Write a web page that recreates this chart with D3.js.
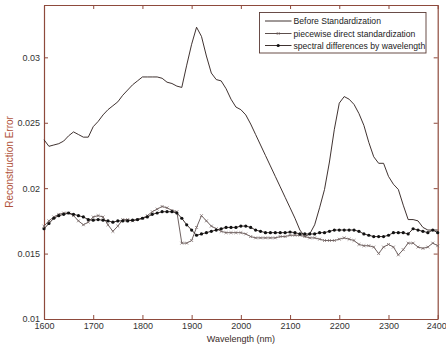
<!DOCTYPE html>
<html>
<head>
<meta charset="utf-8">
<script src="https://cdn.jsdelivr.net/npm/d3@7"></script>
<style>
  html, body { margin: 0; padding: 0; background: #fff; }
  svg { display: block; font-family: "Liberation Sans", Arial, sans-serif; }
</style>
</head>
<body>
<svg id="chart" width="446" height="351"></svg>
<script>
// Wavelength grid (nm), sampled every 10 nm
const wavelengths = d3.range(1600, 2401, 10);

// Reconstruction error before any standardization
const beforeStd = [
  0.0237, 0.0232, 0.0233, 0.0234, 0.0236, 0.0240, 0.0243, 0.0241, 0.0239, 0.0239,
  0.0247, 0.0251, 0.0256, 0.0260, 0.0263, 0.0266, 0.0271, 0.0275, 0.0279, 0.0282,
  0.0285, 0.0285, 0.0285, 0.0285, 0.0284, 0.0281, 0.0280, 0.0278, 0.0277, 0.0294,
  0.0310, 0.0323, 0.0316, 0.0301, 0.0288, 0.0283, 0.0282, 0.0276, 0.0268, 0.0262,
  0.0260, 0.0256, 0.0249, 0.0241, 0.0233, 0.0225, 0.0217, 0.0209, 0.0201, 0.0193,
  0.0185, 0.0177, 0.0168, 0.0163, 0.0165, 0.0172, 0.0185, 0.0199, 0.0220, 0.0245,
  0.0265, 0.0270, 0.0268, 0.0264, 0.0257, 0.0248, 0.0235, 0.0224, 0.0219, 0.0219,
  0.0209, 0.0203, 0.0199, 0.0187, 0.0176, 0.0176, 0.0175, 0.0170, 0.0168, 0.0168,
  0.0168
];

// Piecewise direct standardization
const pdsError = [
  0.0171, 0.0175, 0.0178, 0.0180, 0.0181, 0.0181, 0.0179, 0.0175, 0.0172, 0.0174,
  0.0178, 0.0179, 0.0178, 0.0172, 0.0167, 0.0171, 0.0176, 0.0176, 0.0175, 0.0176,
  0.0177, 0.0179, 0.0182, 0.0184, 0.0186, 0.0185, 0.0183, 0.0182, 0.0158, 0.0158,
  0.0160, 0.0170, 0.0179, 0.0175, 0.0171, 0.0169, 0.0167, 0.0166, 0.0166, 0.0166,
  0.0166, 0.0165, 0.0163, 0.0162, 0.0162, 0.0162, 0.0162, 0.0162, 0.0163, 0.0163,
  0.0164, 0.0164, 0.0164, 0.0163, 0.0162, 0.0162, 0.0161, 0.0160, 0.0160, 0.0160,
  0.0161, 0.0162, 0.0161, 0.0160, 0.0157, 0.0156, 0.0156, 0.0155, 0.0150, 0.0155,
  0.0157, 0.0155, 0.0149, 0.0153, 0.0158, 0.0158, 0.0155, 0.0154, 0.0155, 0.0158,
  0.0156
];

// Spectral differences by wavelength
const sdwError = [
  0.0169, 0.0173, 0.0177, 0.0179, 0.0180, 0.0181, 0.0180, 0.0179, 0.0178, 0.0176,
  0.01755, 0.0176, 0.01755, 0.0175, 0.0174, 0.0175, 0.0175, 0.0175, 0.01755, 0.0176,
  0.0177, 0.0178, 0.0180, 0.0181, 0.0182, 0.0182, 0.0182, 0.0181, 0.0177, 0.0172,
  0.0168, 0.0164, 0.0165, 0.0166, 0.0167, 0.0168, 0.0169, 0.0170, 0.0170, 0.0170,
  0.0171, 0.0171, 0.0170, 0.0168, 0.0167, 0.0166, 0.0166, 0.0166, 0.0166, 0.0166,
  0.01665, 0.0166, 0.0165, 0.0165, 0.0165, 0.0165, 0.0166, 0.0166, 0.0167, 0.0168,
  0.0168, 0.0168, 0.0168, 0.0168, 0.0167, 0.0165, 0.0164, 0.0163, 0.0163, 0.0163,
  0.0164, 0.0166, 0.0166, 0.0166, 0.0165, 0.0169, 0.0168, 0.0167, 0.0166, 0.0168,
  0.0166
];

const seriesNames = [
  "Before Standardization",
  "piecewise direct standardization",
  "spectral differences by wavelength"
];

const xTicks = [1600, 1700, 1800, 1900, 2000, 2100, 2200, 2300, 2400];
const yTicks = [0.01, 0.015, 0.02, 0.025, 0.03];

const svg = d3.select("#chart");
const W = 446, H = 351;
const m = { left: 44, top: 5, right: 8.3, bottom: 32 };
const axisColor = "#8e4a3c";

const x = d3.scaleLinear().domain([1600, 2400]).range([m.left, W - m.right]);
const y = d3.scaleLinear().domain([0.01, 0.034]).range([H - m.bottom, m.top]);

svg.append("rect").attr("width", W).attr("height", H).attr("fill", "#fff");

// Axes box with inward ticks on all four sides
function styleAxis(g) {
  g.selectAll(".domain").attr("stroke", axisColor).attr("stroke-width", 1.2);
  g.selectAll(".tick line").attr("stroke", axisColor);
  g.selectAll(".tick text").attr("fill", "#333").attr("font-size", 9)
    .attr("font-family", "Liberation Sans, Arial, sans-serif");
}

const fmtY = d => String(+d.toFixed(3));

const xAxisG = svg.append("g").attr("transform", `translate(0,${H - m.bottom})`)
  .call(d3.axisBottom(x).tickValues(xTicks).tickSizeInner(-4).tickSizeOuter(0).tickPadding(4).tickFormat(d3.format("d")))
  .call(styleAxis);
// keep the last tick label inside the page edge
xAxisG.selectAll(".tick text").filter(d => d === 2400).attr("dx", -1.5);

svg.append("g").attr("transform", `translate(0,${m.top})`)
  .call(d3.axisTop(x).tickValues(xTicks).tickSizeInner(-4).tickSizeOuter(0).tickFormat(""))
  .call(styleAxis);
svg.append("g").attr("transform", `translate(${m.left},0)`)
  .call(d3.axisLeft(y).tickValues(yTicks).tickSizeInner(-4).tickSizeOuter(0).tickPadding(4).tickFormat(fmtY))
  .call(styleAxis);
svg.append("g").attr("transform", `translate(${W - m.right},0)`)
  .call(d3.axisRight(y).tickValues(yTicks).tickSizeInner(-4).tickSizeOuter(0).tickFormat(""))
  .call(styleAxis);

// Axis titles
svg.append("text")
  .attr("x", (m.left + W - m.right) / 2).attr("y", H - 9)
  .attr("text-anchor", "middle").attr("font-size", 9).attr("fill", "#3a2a28")
  .text("Wavelength (nm)");
svg.append("text")
  .attr("transform", `translate(13,${(m.top + H - m.bottom) / 2}) rotate(-90)`)
  .attr("text-anchor", "middle").attr("font-size", 10).attr("fill", "#b0523a")
  .text("Reconstruction Error");

const line = d3.line().x((d, i) => x(wavelengths[i])).y(d => y(d));
const plot = svg.append("g");

const lineColor = "#2a1c1a";

// Before Standardization: plain line
plot.append("path").datum(beforeStd)
  .attr("d", line).attr("fill", "none").attr("stroke", lineColor).attr("stroke-width", 0.9);

// Piecewise direct standardization: line with small x markers
plot.append("path").datum(pdsError)
  .attr("d", line).attr("fill", "none").attr("stroke", "#4a3a38").attr("stroke-width", 0.8);
const xm = 1.4;
plot.append("g").selectAll("path").data(pdsError).join("path")
  .attr("d", (d, i) => {
    const cx = x(wavelengths[i]), cy = y(d);
    return `M${cx - xm},${cy - xm}L${cx + xm},${cy + xm}M${cx - xm},${cy + xm}L${cx + xm},${cy - xm}`;
  })
  .attr("stroke", "#7a6a68").attr("stroke-width", 0.8).attr("fill", "none");

// Spectral differences by wavelength: line with dot markers
plot.append("path").datum(sdwError)
  .attr("d", line).attr("fill", "none").attr("stroke", lineColor).attr("stroke-width", 0.9);
plot.append("g").selectAll("circle").data(sdwError).join("circle")
  .attr("cx", (d, i) => x(wavelengths[i])).attr("cy", d => y(d))
  .attr("r", 1.6).attr("fill", "#111");

// Legend
const lg = svg.append("g");
lg.append("rect").attr("x", 259.5).attr("y", 12.5).attr("width", 166.5).attr("height", 40.5)
  .attr("fill", "#fff").attr("stroke", "#5a3a34").attr("stroke-width", 0.9);
const rowsY = [21, 33.5, 45.5];
seriesNames.forEach((name, i) => {
  const yy = rowsY[i];
  lg.append("line").attr("x1", 265).attr("x2", 291.5).attr("y1", yy).attr("y2", yy)
    .attr("stroke", i === 1 ? "#4a3a38" : lineColor).attr("stroke-width", 0.9);
  if (i === 1) {
    const cx = 278.2;
    lg.append("path")
      .attr("d", `M${cx - xm},${yy - xm}L${cx + xm},${yy + xm}M${cx - xm},${yy + xm}L${cx + xm},${yy - xm}`)
      .attr("stroke", "#7a6a68").attr("stroke-width", 0.8);
  }
  if (i === 2) {
    lg.append("circle").attr("cx", 278.2).attr("cy", yy).attr("r", 1.6).attr("fill", "#111");
  }
  lg.append("text").attr("x", 293.5).attr("y", yy + 3.2)
    .attr("font-size", 8.6).attr("fill", "#222").text(name);
});
</script>
</body>
</html>
